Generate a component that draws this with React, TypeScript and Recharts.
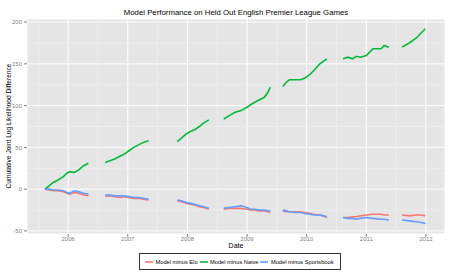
import { CartesianGrid, Line, LineChart, ReferenceLine, XAxis, YAxis } from "recharts";

// season dates as decimal years; null entries mark the summer gaps between seasons
const dates = [
    2005.61, 2005.68, 2005.75, 2005.83, 2005.92, 2005.98, 2006.03, 2006.10, 2006.18, 2006.26, 2006.34,
    2006.48,
    2006.62, 2006.70, 2006.78, 2006.86, 2006.94, 2007.02, 2007.10, 2007.18, 2007.26, 2007.35,
    2007.6,
    2007.83, 2007.90, 2007.98, 2008.05, 2008.12, 2008.20, 2008.27, 2008.36,
    2008.48,
    2008.61, 2008.70, 2008.80, 2008.90, 2009.00, 2009.06, 2009.13, 2009.21, 2009.29, 2009.35, 2009.39,
    2009.5,
    2009.60, 2009.66, 2009.71, 2009.80, 2009.90, 2009.97, 2010.05, 2010.12, 2010.22, 2010.28, 2010.34,
    2010.48,
    2010.61, 2010.69, 2010.77, 2010.83, 2010.90, 2011.00, 2011.11, 2011.25, 2011.30, 2011.38,
    2011.5,
    2011.60, 2011.72, 2011.84, 2011.92, 2011.99,
];

const minusElo = [
    0, -1, -2, -2, -3, -5, -6, -4, -5, -7, -8,
    null,
    -8, -8, -9, -10, -9, -10, -11, -11, -12, -13,
    null,
    -14, -15, -17, -18, -19, -21, -22, -24,
    null,
    -24, -23, -23, -23, -24, -25, -25, -26, -26, -27, -28,
    null,
    -26, -27, -27, -27, -27, -28, -29, -30, -31, -32, -34,
    null,
    -34, -34, -33, -33, -32, -31, -30, -30, -31, -31,
    null,
    -31, -32, -31, -31, -32,
];

const minusNaive = [
    0, 4, 8, 11, 15, 19, 21, 20, 23, 28, 31,
    null,
    32, 34, 36, 39, 42, 46, 50, 53, 56, 58,
    null,
    57, 61, 66, 69, 71, 75, 79, 83,
    null,
    84, 88, 92, 94, 98, 101, 104, 107, 110, 116, 122,
    null,
    123, 128, 131, 131, 131, 133, 137, 142, 150, 153, 156,
    null,
    156, 158, 156, 159, 158, 160, 168, 168, 172, 170,
    null,
    170, 175, 181, 187, 192,
];

const minusSportsbook = [
    0, 0, -1, -1, -2, -4, -5, -2, -3, -5, -6,
    null,
    -7, -7, -8, -8, -8, -9, -10, -10, -11, -12,
    null,
    -13, -14, -16, -17, -18, -20, -21, -23,
    null,
    -23, -22, -21, -20, -22, -24, -24, -25, -25, -26, -26,
    null,
    -25, -26, -27, -28, -28, -29, -30, -31, -31, -32, -33,
    null,
    -34, -35, -35, -36, -35, -34, -35, -36, -36, -37,
    null,
    -37, -38, -39, -40, -41,
];

const yearTicks = [2006, 2007, 2008, 2009, 2010, 2011, 2012];
const yearMinor = [2005.5, 2006.5, 2007.5, 2008.5, 2009.5, 2010.5, 2011.5];
const valueTicks = [-50, 0, 50, 100, 150, 200];
const valueMinor = [-25, 25, 75, 125, 175];

const series = [
    { key: "elo", name: "Model minus Elo", color: "#F8766D" },
    { key: "naive", name: "Model minus Naive", color: "#00BA38" },
    { key: "book", name: "Model minus Sportsbook", color: "#619CFF" },
];

const data = dates.map((d, i) => ({
    date: d,
    elo: minusElo[i],
    naive: minusNaive[i],
    book: minusSportsbook[i],
}));

const font = "'Liberation Sans', Arial, Helvetica, sans-serif";

export default function App() {
    return <div style={{ position: "absolute", left: 0, top: 0, width: 453, height: 280, background: "#fff", fontFamily: font }}>
        <LineChart width={453} height={280} data={data} margin={{ top: 19, right: 8, bottom: 34, left: 0 }}>
            <CartesianGrid fill="#E5E5E5" stroke="#FFFFFF" strokeWidth={1} />
            {yearMinor.map(x => <ReferenceLine key={"vx" + x} x={x} stroke="#F2F2F2" strokeWidth={0.6} />)}
            {valueMinor.map(y => <ReferenceLine key={"hy" + y} y={y} stroke="#F2F2F2" strokeWidth={0.6} />)}
            <XAxis dataKey="date" type="number" domain={[2005.31, 2012.32]} ticks={yearTicks}
                allowDataOverflow axisLine={false} tickSize={3} tickMargin={0} height={12}
                tickLine={{ stroke: "#7F7F7F" }}
                tick={{ fontSize: 6, fill: "#7F7F7F", fontFamily: font }}
                tickFormatter={t => String(t)} />
            <YAxis type="number" domain={[-53.7, 203.7]} ticks={valueTicks} allowDataOverflow
                axisLine={false} tickSize={3} width={27}
                tickLine={{ stroke: "#7F7F7F" }}
                tick={{ fontSize: 6, fill: "#7F7F7F", fontFamily: font }} />
            {series.map(s =>
                <Line key={s.key} type="linear" dataKey={s.key} stroke={s.color} strokeWidth={1.6}
                    dot={false} activeDot={false} isAnimationActive={false} />)}
        </LineChart>

        <div style={{ position: "absolute", left: 27, top: 8, width: 418, textAlign: "center", fontSize: 7.8, lineHeight: "10px", color: "#000" }}>
            Model Performance on Held Out English Premier League Games
        </div>
        <div style={{ position: "absolute", left: 9 - 100, top: 126 - 5, width: 200, height: 10, lineHeight: "10px", textAlign: "center", fontSize: 6.6, color: "#000", transform: "rotate(-90deg)", transformOrigin: "center" }}>
            Cumulative Joint Log Likelihood Difference
        </div>
        <div style={{ position: "absolute", left: 27, top: 241, width: 418, textAlign: "center", fontSize: 7, lineHeight: "10px", color: "#000" }}>
            Date
        </div>

        <div style={{ position: "absolute", left: 139, top: 253, height: 17, display: "flex", alignItems: "center", border: "0.8px solid #333", padding: "0 4px 0 5px", boxSizing: "border-box", fontSize: 5.7, color: "#000" }}>
            {series.map(s =>
                <div key={s.key} style={{ display: "flex", alignItems: "center", marginRight: 2 }}>
                    <svg width={8} height={4} style={{ marginRight: 2.5, flexShrink: 0 }}>
                        <line x1={0} y1={2} x2={8} y2={2} stroke={s.color} strokeWidth={1.6} />
                    </svg>
                    <span>{s.name}</span>
                </div>)}
        </div>
    </div>;
}
